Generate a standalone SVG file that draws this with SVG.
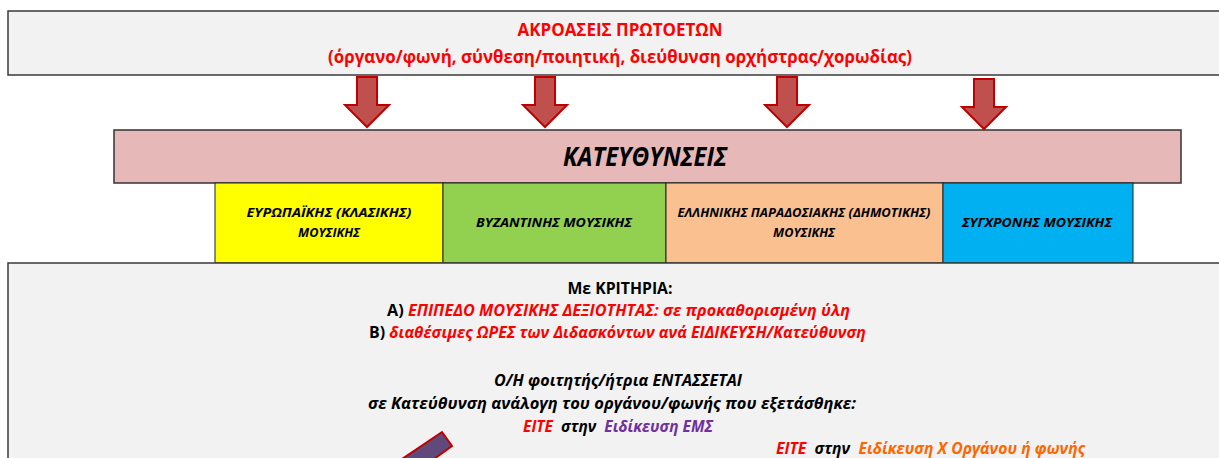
<svg xmlns="http://www.w3.org/2000/svg" width="1219" height="458" viewBox="0 0 1219 458">
<defs>
<style>
text{font-family:"Open Sans","Noto Sans","DejaVu Sans",sans-serif;font-weight:bold;}
.panel{fill:#f2f2f2;stroke:#3a3a3a;stroke-width:1.5;}
.red{fill:#ff0000;}
.blk{fill:#000000;}
.it{font-style:italic;}
.cell{stroke:#222;stroke-width:1;}
.cellt{font-size:13px;font-style:italic;fill:#000;text-anchor:middle;}
.mid{text-anchor:middle;}
.darrow{fill:#c0504d;stroke:#c00000;stroke-width:2;stroke-linejoin:miter;}
</style>
</defs>
<rect width="1219" height="458" fill="#ffffff"/>

<g id="top-panel">
<rect class="panel" x="8" y="11" width="1230" height="64"/>
<text class="red mid" x="620" y="36" font-size="18" textLength="205" lengthAdjust="spacingAndGlyphs">ΑΚΡΟΑΣΕΙΣ ΠΡΩΤΟΕΤΩΝ</text>
<text class="red mid" x="620" y="63" font-size="18" textLength="584" lengthAdjust="spacingAndGlyphs">(όργανο/φωνή, σύνθεση/ποιητική, διεύθυνση ορχήστρας/χορωδίας)</text>
</g>

<g id="kateythynseis">
<rect x="114" y="130" width="1067" height="53" fill="#e6b8b7" stroke="#333" stroke-width="1.5"/>
<text class="mid it blk" x="645" y="166" font-size="26" textLength="164" lengthAdjust="spacingAndGlyphs">ΚΑΤΕΥΘΥΝΣΕΙΣ</text>
</g>

<g id="dir-european">
<rect class="cell" x="215" y="183" width="228" height="80" fill="#ffff00"/>
<text class="cellt" x="329" y="217" textLength="165" lengthAdjust="spacingAndGlyphs">ΕΥΡΩΠΑΪΚΗΣ (ΚΛΑΣΙΚΗΣ)</text>
<text class="cellt" x="329" y="237" textLength="62" lengthAdjust="spacingAndGlyphs">ΜΟΥΣΙΚΗΣ</text>
</g>
<g id="dir-byzantine">
<rect class="cell" x="443" y="183" width="223" height="80" fill="#92d050"/>
<text class="cellt" x="554" y="227" textLength="156" lengthAdjust="spacingAndGlyphs">ΒΥΖΑΝΤΙΝΗΣ ΜΟΥΣΙΚΗΣ</text>
</g>
<g id="dir-traditional">
<rect class="cell" x="666" y="183" width="277" height="80" fill="#fac090"/>
<text class="cellt" x="804" y="217" textLength="253" lengthAdjust="spacingAndGlyphs">ΕΛΛΗΝΙΚΗΣ ΠΑΡΑΔΟΣΙΑΚΗΣ (ΔΗΜΟΤΙΚΗΣ)</text>
<text class="cellt" x="804" y="237" textLength="62" lengthAdjust="spacingAndGlyphs">ΜΟΥΣΙΚΗΣ</text>
</g>
<g id="dir-contemporary">
<rect class="cell" x="943" y="183" width="190" height="80" fill="#00b0f0"/>
<text class="cellt" x="1037" y="227" textLength="150" lengthAdjust="spacingAndGlyphs">ΣΥΓΧΡΟΝΗΣ ΜΟΥΣΙΚΗΣ</text>
</g>

<g id="criteria-panel">
<rect class="panel" x="8" y="263" width="1230" height="210"/>
<text class="blk mid" x="620" y="294" font-size="15.5" textLength="105" lengthAdjust="spacingAndGlyphs">Με ΚΡΙΤΗΡΙΑ:</text>
<text x="387" y="316" font-size="15.5" textLength="463" lengthAdjust="spacingAndGlyphs"><tspan class="blk">Α) </tspan><tspan class="red it">ΕΠΙΠΕΔΟ ΜΟΥΣΙΚΗΣ ΔΕΞΙΟΤΗΤΑΣ: σε προκαθορισμένη ύλη</tspan></text>
<text x="369" y="338" font-size="15.5" textLength="497" lengthAdjust="spacingAndGlyphs"><tspan class="blk">Β) </tspan><tspan class="red it">διαθέσιμες ΩΡΕΣ των Διδασκόντων ανά ΕΙΔΙΚΕΥΣΗ/Κατεύθυνση</tspan></text>
<text class="blk it mid" x="618" y="386" font-size="15.5" textLength="248" lengthAdjust="spacingAndGlyphs">Ο/Η φοιτητής/ήτρια ΕΝΤΑΣΣΕΤΑΙ</text>
<text class="blk it mid" x="612" y="409" font-size="15.5" textLength="488" lengthAdjust="spacingAndGlyphs">σε Κατεύθυνση ανάλογη του οργάνου/φωνής που εξετάσθηκε:</text>
<text class="it" x="523" y="432" font-size="15.5" xml:space="preserve" textLength="190" lengthAdjust="spacingAndGlyphs"><tspan fill="#ff0000">ΕΙΤΕ</tspan><tspan fill="#000">  στην  </tspan><tspan fill="#7030a0">Ειδίκευση ΕΜΣ</tspan></text>
<text class="it" x="776" y="454" font-size="15.5" xml:space="preserve" textLength="309" lengthAdjust="spacingAndGlyphs"><tspan fill="#ff0000">ΕΙΤΕ</tspan><tspan fill="#000">  στην  </tspan><tspan fill="#ff6600">Ειδίκευση Χ Οργάνου ή φωνής</tspan></text>
</g>

<g id="connectors">
<polygon class="darrow" points="357,77 377,77 377,105 389,105 367,127 345,105 357,105"/>
<polygon class="darrow" points="535,77 555,77 555,105 567,105 545,127 523,105 535,105"/>
<polygon class="darrow" points="777,77 797,77 797,105 809,105 787,127 765,105 777,105"/>
<polygon class="darrow" points="974,79 994,79 994,107 1006,107 984,129 962,107 974,107"/>
<polygon points="442,432 452,446 434,459 402,459" fill="#604a7b" stroke="#c00000" stroke-width="2"/>
</g>
</svg>
